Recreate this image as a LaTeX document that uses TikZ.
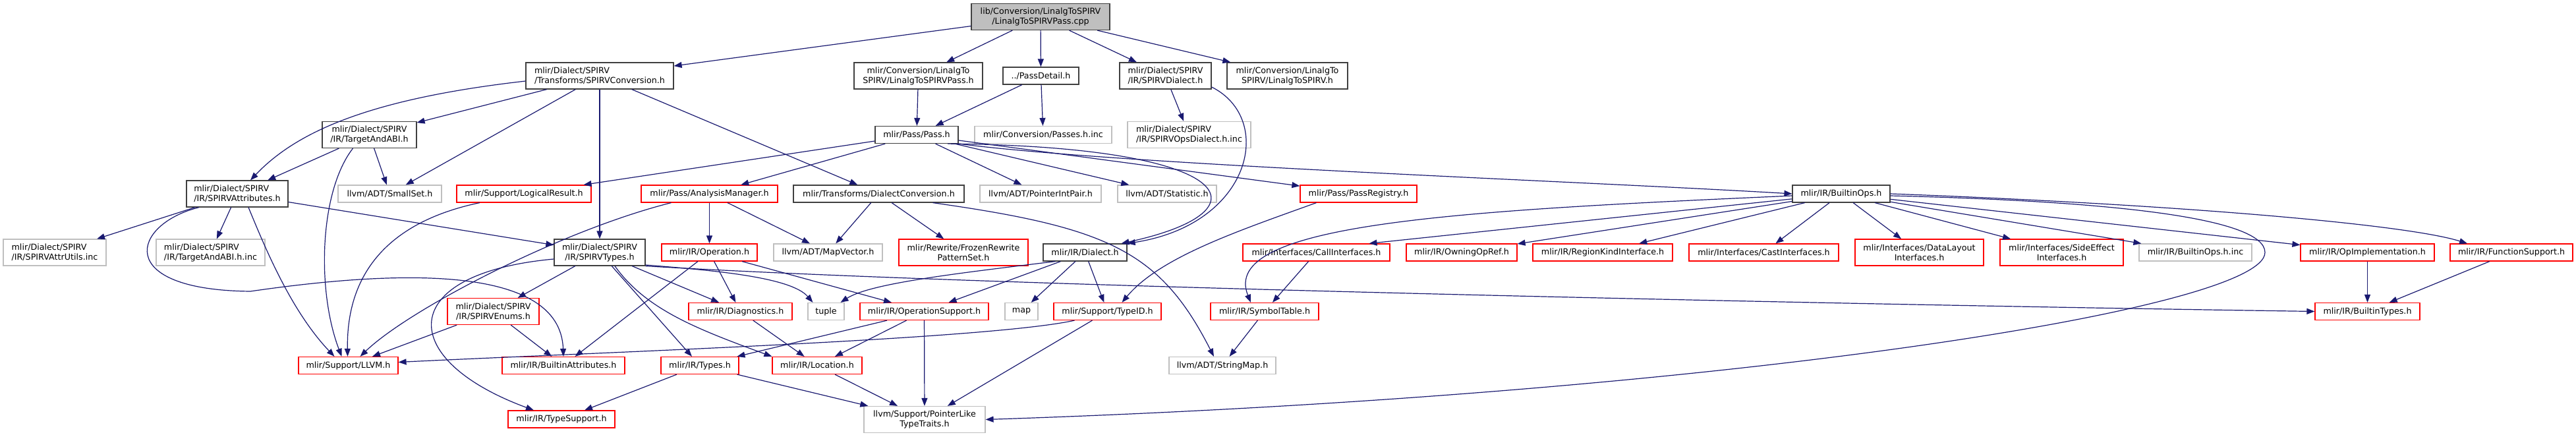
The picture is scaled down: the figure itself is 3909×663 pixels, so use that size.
\documentclass[tikz,border=0pt]{standalone}
\usepackage{fontspec}
\setmainfont{DejaVu Sans}
\usepackage{tikz}
\usetikzlibrary{arrows.meta}
\definecolor{edgeblue}{HTML}{191970}
\definecolor{docgray}{HTML}{404040}
\definecolor{extgray}{HTML}{BFBFBF}
\newcommand{\doxfont}{\fontsize{12.7}{15}\selectfont}

\begin{document}
\begin{tikzpicture}[
    x=1pt, y=-1pt,
    hdr/.style={line width=1.2pt, fill=white, inner sep=0pt, minimum height=26pt, align=center, font=\doxfont},
    two/.style={minimum height=40pt},
    doc/.style={hdr, draw=docgray},
    trunc/.style={hdr, draw=red},
    ext/.style={hdr, draw=extgray},
    arrow/.style={-{Triangle[length=12pt, width=9pt]}, draw=edgeblue, line width=1.2pt}
]
\useasboundingbox (0,0) rectangle (3909,663);

\node[doc, two, fill=extgray, minimum width=210pt] (cpp) at (1579,25.5) {lib/Conversion/LinalgToSPIRV\\/LinalgToSPIRVPass.cpp};

\node[doc, two, align=left, minimum width=224pt] (spvconv) at (910,115) {mlir/Dialect/SPIRV\\/Transforms/SPIRVConversion.h};
\node[doc, two, minimum width=195pt] (passh) at (1393.5,115) {mlir/Conversion/LinalgTo\\SPIRV/LinalgToSPIRVPass.h};
\node[doc, minimum width=115pt] (detail) at (1579.5,115) {../PassDetail.h};
\node[doc, two, minimum width=139pt] (spvdialect) at (1768.5,115) {mlir/Dialect/SPIRV\\/IR/SPIRVDialect.h};
\node[doc, two, minimum width=183pt] (linalgh) at (1953.5,115) {mlir/Conversion/LinalgTo\\SPIRV/LinalgToSPIRV.h};

\node[doc, two, minimum width=143pt] (abi) at (560.5,204.5) {mlir/Dialect/SPIRV\\/IR/TargetAndABI.h};
\node[doc, minimum width=126pt] (pass) at (1391,204.5) {mlir/Pass/Pass.h};
\node[ext, minimum width=208pt] (passesinc) at (1583,204.5) {mlir/Conversion/Passes.h.inc};
\node[ext, two, align=left, minimum width=187pt] (opsdialectinc) at (1804.5,204.5) {mlir/Dialect/SPIRV\\/IR/SPIRVOpsDialect.h.inc};

\node[doc, two, align=left, minimum width=154pt] (spvattrs) at (360,294) {mlir/Dialect/SPIRV\\/IR/SPIRVAttributes.h};
\node[ext, minimum width=157pt] (smallset) at (591.5,294) {llvm/ADT/SmallSet.h};
\node[trunc, minimum width=204pt] (logical) at (795,294) {mlir/Support/LogicalResult.h};
\node[trunc, minimum width=207pt] (analysis) at (1076.5,294) {mlir/Pass/AnalysisManager.h};
\node[doc, minimum width=259pt] (dconv) at (1333.5,294) {mlir/Transforms/DialectConversion.h};
\node[ext, minimum width=184pt] (ptrint) at (1579,294) {llvm/ADT/PointerIntPair.h};
\node[ext, minimum width=150pt] (statistic) at (1771,294) {llvm/ADT/Statistic.h};
\node[trunc, minimum width=177pt] (registry) at (2061.5,294) {mlir/Pass/PassRegistry.h};
\node[doc, minimum width=148pt] (builtinops) at (2794,294) {mlir/IR/BuiltinOps.h};

\node[ext, two, align=left, minimum width=156pt] (attrutils) at (83,383) {mlir/Dialect/SPIRV\\/IR/SPIRVAttrUtils.inc};
\node[ext, two, align=left, minimum width=165pt] (abiinc) at (319.5,383) {mlir/Dialect/SPIRV\\/IR/TargetAndABI.h.inc};
\node[doc, two, minimum width=138pt] (spvtypes) at (910,383) {mlir/Dialect/SPIRV\\/IR/SPIRVTypes.h};
\node[trunc, minimum width=145pt] (operation) at (1076.5,383) {mlir/IR/Operation.h};
\node[ext, minimum width=165pt] (mapvector) at (1256.5,383) {llvm/ADT/MapVector.h};
\node[trunc, two, minimum width=196pt] (frozen) at (1462,383) {mlir/Rewrite/FrozenRewrite\\PatternSet.h};
\node[doc, minimum width=127pt] (dialect) at (1646.5,383) {mlir/IR/Dialect.h};
\node[trunc, minimum width=223pt] (callif) at (1997.5,383) {mlir/Interfaces/CallInterfaces.h};
\node[trunc, minimum width=168pt] (owning) at (2218,383) {mlir/IR/OwningOpRef.h};
\node[trunc, minimum width=212pt] (regionkind) at (2432,383) {mlir/IR/RegionKindInterface.h};
\node[trunc, minimum width=227pt] (castif) at (2676.5,383) {mlir/Interfaces/CastInterfaces.h};
\node[trunc, two, minimum width=195pt] (datalayout) at (2912.5,383) {mlir/Interfaces/DataLayout\\Interfaces.h};
\node[trunc, two, minimum width=187pt] (sideeffect) at (3128.5,383) {mlir/Interfaces/SideEffect\\Interfaces.h};
\node[ext, minimum width=171pt] (opsinc) at (3331.5,383) {mlir/IR/BuiltinOps.h.inc};
\node[trunc, minimum width=203pt] (opimpl) at (3592.5,383) {mlir/IR/OpImplementation.h};
\node[trunc, minimum width=186pt] (funcsupport) at (3811,383) {mlir/IR/FunctionSupport.h};

\node[trunc, two, minimum width=139pt] (spvenums) at (748.5,472.5) {mlir/Dialect/SPIRV\\/IR/SPIRVEnums.h};
\node[trunc, minimum width=157pt] (diagnostics) at (1123.5,472.5) {mlir/IR/Diagnostics.h};
\node[ext, minimum width=55pt] (tuple) at (1253.5,472.5) {tuple};
\node[trunc, minimum width=195pt] (opsupport) at (1402.5,472.5) {mlir/IR/OperationSupport.h};
\node[ext, minimum width=50pt] (map) at (1550,472.5) {map};
\node[trunc, minimum width=163pt] (typeid) at (1680.5,472.5) {mlir/Support/TypeID.h};
\node[trunc, minimum width=164pt] (symtable) at (1919,472.5) {mlir/IR/SymbolTable.h};
\node[trunc, minimum width=159pt] (builtintypes) at (3592.5,472.5) {mlir/IR/BuiltinTypes.h};

\node[trunc, minimum width=151pt] (llvm) at (528.5,554.5) {mlir/Support/LLVM.h};
\node[trunc, minimum width=186pt] (battrs) at (855,554.5) {mlir/IR/BuiltinAttributes.h};
\node[trunc, minimum width=118pt] (types) at (1062,554.5) {mlir/IR/Types.h};
\node[trunc, minimum width=136pt] (location) at (1240,554.5) {mlir/IR/Location.h};
\node[ext, minimum width=162pt] (stringmap) at (1855,554.5) {llvm/ADT/StringMap.h};

\node[trunc, minimum width=162pt] (typesupport) at (852,636) {mlir/IR/TypeSupport.h};
\node[ext, two, minimum width=184pt] (ptrlike) at (1403,636.5) {llvm/Support/PointerLike\\TypeTraits.h};

\draw[arrow] (cpp) -- (spvconv);
\draw[arrow] (cpp) -- (passh);
\draw[arrow] (cpp) -- (detail);
\draw[arrow] (cpp) -- (spvdialect);
\draw[arrow] (cpp) -- (linalgh);

\draw[arrow] ([yshift=-8pt]spvconv.west) .. controls (560,150) and (450,200) .. ([xshift=20pt]spvattrs.north);
\draw[arrow] (spvconv) -- (abi);
\draw[arrow] (spvconv) -- (smallset);
\draw[arrow] (spvconv) -- (spvtypes);
\draw[arrow] (spvconv) -- (dconv);
\draw[arrow] (passh) -- (pass);
\draw[arrow] (detail) -- (pass);
\draw[arrow] (detail) -- (passesinc);
\draw[arrow] (spvdialect) -- (opsdialectinc);
\draw[arrow] ([yshift=-17pt]spvdialect.east) .. controls (1935,180) and (1900,340) .. (dialect.north east);

\draw[arrow] (abi) -- (spvattrs);
\draw[arrow] (abi) -- (smallset);
\draw[arrow] ([xshift=-25pt]abi.south) .. controls (485,290) and (480,440) .. ([xshift=-10pt]llvm.north);

\draw[arrow] (pass) -- (logical);
\draw[arrow] (pass) -- (analysis);
\draw[arrow] (pass) -- (ptrint);
\draw[arrow] (pass) -- (statistic);
\draw[arrow] (pass) -- (registry);
\draw[arrow] (pass.south east) .. controls (1700,250) and (2400,275) .. (builtinops.west);
\draw[arrow] ([xshift=47pt]pass.south) .. controls (1880,222) and (1930,320) .. ([xshift=55pt]dialect.north);

\draw[arrow] ([xshift=-67pt]logical.south) .. controls (620,330) and (525,390) .. ([xshift=-1pt]llvm.north);
\draw[arrow] ([xshift=-58pt]analysis.south) .. controls (850,350) and (620,470) .. ([xshift=18pt]llvm.north);
\draw[arrow] (analysis) -- (operation);
\draw[arrow] (analysis) -- (mapvector);
\draw[arrow] (dconv) -- (mapvector);
\draw[arrow] (dconv) -- (frozen);
\draw[arrow] ([xshift=82pt]dconv.south) .. controls (1680,345) and (1760,380) .. ([xshift=-13pt]stringmap.north);
\draw[arrow] ([xshift=-64pt]registry.south) .. controls (1880,350) and (1760,390) .. ([xshift=22pt]typeid.north);

\draw[arrow] (spvattrs) -- (attrutils);
\draw[arrow] (spvattrs) -- (abiinc);
\draw[arrow] ([xshift=17pt]spvattrs.south) .. controls (400,370) and (440,470) .. ([xshift=-21pt]llvm.north);
\draw[arrow] (spvattrs) -- (spvtypes);
\draw[arrow] ([xshift=-58pt]spvattrs.south) .. controls (200,340) and (170,440) .. (380,442) .. controls (600,410) and (850,400) .. (battrs.north);

\draw[arrow] ([yshift=-10pt]spvtypes.west) .. controls (600,415) and (600,545) .. ([xshift=-42pt]typesupport.north);
\draw[arrow] (spvtypes) -- (spvenums);
\draw[arrow] (spvtypes) -- (types);
\draw[arrow] ([xshift=23pt]spvtypes.south) .. controls (980,470) and (1060,500) .. (location.north west);
\draw[arrow] (spvtypes) -- (diagnostics);
\draw[arrow] ([yshift=-19pt]spvtypes.east) .. controls (1080,410) and (1200,420) .. ([xshift=-20pt]tuple.north);
\draw[arrow] (spvtypes.south east) .. controls (1500,435) and (2800,462) .. (builtintypes.west);
\draw[arrow] (spvenums) -- (llvm);
\draw[arrow] (spvenums) -- (battrs);

\draw[arrow] (operation) -- (battrs);
\draw[arrow] (operation) -- (diagnostics);
\draw[arrow] (operation) -- (opsupport);
\draw[arrow] ([xshift=-45pt]dialect.south) .. controls (1450,415) and (1320,430) .. ([xshift=22pt]tuple.north);
\draw[arrow] (dialect) -- (opsupport);
\draw[arrow] (dialect) -- (map);
\draw[arrow] (dialect) -- (typeid);
\draw[arrow] (callif) -- (symtable);

\draw[arrow] ([yshift=-3pt]builtinops.west) .. controls (2200,320) and (1850,340) .. ([xshift=-21pt]symtable.north);
\draw[arrow] (builtinops) -- ([xshift=80pt]callif.north);
\draw[arrow] (builtinops) -- (owning);
\draw[arrow] (builtinops) -- (regionkind);
\draw[arrow] (builtinops) -- (castif);
\draw[arrow] (builtinops) -- (datalayout);
\draw[arrow] (builtinops) -- (sideeffect);
\draw[arrow] (builtinops) -- (opsinc);
\draw[arrow] (builtinops) -- (opimpl);
\draw[arrow] (builtinops.east) .. controls (3300,310) and (3650,340) .. ([xshift=-67pt]funcsupport.north);
\draw[arrow] ([yshift=-3pt]builtinops.east) .. controls (3200,305) and (3437,330) .. (3437,383) .. controls (3437,470) and (2600,600) .. (ptrlike.east);

\draw[arrow] (diagnostics) -- (location);
\draw[arrow] (opsupport) -- (types);
\draw[arrow] (opsupport) -- (location);
\draw[arrow] (opsupport) -- (ptrlike);
\draw[arrow] (typeid) -- (ptrlike);
\draw[arrow] ([xshift=-50pt]typeid.south) .. controls (1500,515) and (900,535) .. ([yshift=5pt]llvm.east);
\draw[arrow] (symtable) -- (stringmap);
\draw[arrow] (types) -- (typesupport);
\draw[arrow] (types) -- (ptrlike);
\draw[arrow] (location) -- (ptrlike);
\draw[arrow] (opimpl) -- (builtintypes);
\draw[arrow] (funcsupport) -- (builtintypes);
\end{tikzpicture}
\end{document}
